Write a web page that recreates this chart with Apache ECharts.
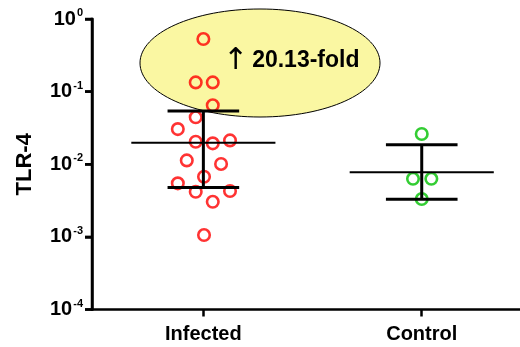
<!DOCTYPE html>
<html>
<head>
<meta charset="utf-8">
<script src="https://cdn.jsdelivr.net/npm/echarts@6/dist/echarts.min.js"></script>
<style>
  html, body { margin: 0; padding: 0; background: #fff; }
  #chart { width: 520px; height: 347px; }
</style>
</head>
<body>
<div id="chart"></div>
<script>
// Groups on the horizontal axis (positions 1 and 2)
const groups = ['Infected', 'Control'];

// Individual TLR-4 measurements: [jittered x position, value]
const infectedPoints = [
  [1.000, 0.53], [0.965, 0.134], [1.043, 0.134], [1.043, 0.0648],
  [0.965, 0.0443], [0.883, 0.0305], [0.965, 0.0204], [1.043, 0.0194],
  [1.122, 0.0213], [0.924, 0.0113], [1.081, 0.0101], [1.003, 0.00673],
  [0.883, 0.00546], [0.965, 0.00418], [1.122, 0.00428], [1.043, 0.00304],
  [1.003, 0.00106]
];
const controlPoints = [
  [2.000, 0.0261], [1.960, 0.0063], [2.044, 0.0063], [2.000, 0.00332]
];

// Summary per group: [x position, mean, lower bar, upper bar]
const summary = [
  [1, 0.0198, 0.0048, 0.054],
  [2, 0.00773, 0.00329, 0.0186]
];

// y-axis range and its decade ticks
const yMin = 0.0001;
const yMax = 1;
const yDecades = [0.0001, 0.001, 0.01, 0.1, 1];

// x-axis range
const xMin = 0.49;
const xMax = 2.45;

const foldText = '20.13-fold';

const FONT = 'Liberation Sans, Arial, sans-serif';

const chart = echarts.init(document.getElementById('chart'), null, { renderer: 'canvas' });

const annotation = [
  {
    type: 'ellipse',
    z: 0,
    shape: { cx: 260, cy: 63, rx: 120, ry: 54 },
    style: { fill: '#FAF7A2', stroke: '#000', lineWidth: 1 }
  },
  {
    type: 'text',
    z: 20,
    left: 223,
    top: 46,
    style: {
      text: '{a|↑}{t|' + foldText + '}',
      rich: {
        a: { fontFamily: 'DejaVu Sans', fontSize: 30, color: '#000', padding: [0, 4, 0, 0] },
        t: { fontFamily: FONT, fontWeight: 'bold', fontSize: 23, color: '#000' }
      }
    }
  }
];

const option = {
  animation: false,
  backgroundColor: '#ffffff',
  grid: { left: 92, right: 0, top: 19, bottom: 37.5 },
  xAxis: {
    type: 'value',
    min: xMin,
    max: xMax,
    splitLine: { show: false },
    axisLine: { show: true, onZero: false, lineStyle: { color: '#000', width: 2.5 } },
    axisTick: {
      show: true, customValues: [1, 2], length: 7,
      lineStyle: { color: '#000', width: 2.5 }
    },
    axisLabel: {
      customValues: [1, 2],
      formatter: v => groups[Math.round(v) - 1],
      margin: 15,
      color: '#000',
      fontFamily: FONT,
      fontWeight: 'bold',
      fontSize: 20
    }
  },
  yAxis: {
    type: 'log',
    min: yMin,
    max: yMax,
    name: 'TLR-4',
    nameLocation: 'middle',
    nameGap: 56,
    nameTextStyle: { color: '#000', fontFamily: FONT, fontWeight: 'bold', fontSize: 22 },
    splitLine: { show: false },
    axisLine: { show: true, onZero: false, lineStyle: { color: '#000', width: 2.5 } },
    axisTick: { show: true, length: 7, lineStyle: { color: '#000', width: 2.5 } },
    axisLabel: {
      margin: 9,
      formatter: v => '{b|10}{s|' + Math.round(Math.log10(v)) + '}',
      rich: {
        b: { fontFamily: FONT, fontWeight: 'bold', fontSize: 20, color: '#000' },
        s: { fontFamily: FONT, fontWeight: 'bold', fontSize: 11, color: '#000', padding: [0, 0, 12, 1] }
      }
    }
  },
  graphic: annotation,
  series: [
    {
      type: 'scatter',
      z: 5,
      symbol: 'circle',
      symbolSize: 11.5,
      itemStyle: { color: 'transparent', borderColor: '#ff0000', borderWidth: 2.6 },
      data: infectedPoints
    },
    {
      type: 'scatter',
      z: 5,
      symbol: 'circle',
      symbolSize: 11.5,
      itemStyle: { color: 'transparent', borderColor: '#00c000', borderWidth: 2.6 },
      data: controlPoints
    },
    {
      // mean line with error bar for each group
      type: 'custom',
      z: 8,
      data: summary,
      renderItem: function (params, api) {
        const x = api.value(0);
        const mean = api.value(1);
        const lo = api.value(2);
        const hi = api.value(3);
        const meanHalf = 0.33;
        const capHalf = 0.164;
        const mL = api.coord([x - meanHalf, mean]);
        const mR = api.coord([x + meanHalf, mean]);
        const lL = api.coord([x - capHalf, lo]);
        const lR = api.coord([x + capHalf, lo]);
        const hL = api.coord([x - capHalf, hi]);
        const hR = api.coord([x + capHalf, hi]);
        const cLo = api.coord([x, lo]);
        const cHi = api.coord([x, hi]);
        const s = { stroke: '#000', fill: null };
        return {
          type: 'group',
          children: [
            { type: 'line', shape: { x1: mL[0], y1: mL[1], x2: mR[0], y2: mR[1] }, style: Object.assign({ lineWidth: 2 }, s) },
            { type: 'line', shape: { x1: cLo[0], y1: cLo[1], x2: cHi[0], y2: cHi[1] }, style: Object.assign({ lineWidth: 3 }, s) },
            { type: 'line', shape: { x1: lL[0], y1: lL[1], x2: lR[0], y2: lR[1] }, style: Object.assign({ lineWidth: 3 }, s) },
            { type: 'line', shape: { x1: hL[0], y1: hL[1], x2: hR[0], y2: hR[1] }, style: Object.assign({ lineWidth: 3 }, s) }
          ]
        };
      }
    }
  ]
};

chart.setOption(option);

// Left spine and decade ticks, positioned through the chart's own coordinate conversion
const finder = { xAxisIndex: 0, yAxisIndex: 0 };
const spineTop = chart.convertToPixel(finder, [xMin, yMax]);
const spineBottom = chart.convertToPixel(finder, [xMin, yMin]);
const axisStyle = { stroke: '#000', lineWidth: 2.5 };
const spine = [
  {
    type: 'line', z: 100,
    shape: { x1: spineTop[0], y1: spineTop[1] - 1.25, x2: spineBottom[0], y2: spineBottom[1] + 1.25 },
    style: axisStyle
  }
].concat(yDecades.map(v => {
  const p = chart.convertToPixel(finder, [xMin, v]);
  return { type: 'line', z: 100, shape: { x1: p[0] - 7, y1: p[1], x2: p[0], y2: p[1] }, style: axisStyle };
}));

chart.setOption({ graphic: annotation.concat(spine) });
</script>
</body>
</html>
